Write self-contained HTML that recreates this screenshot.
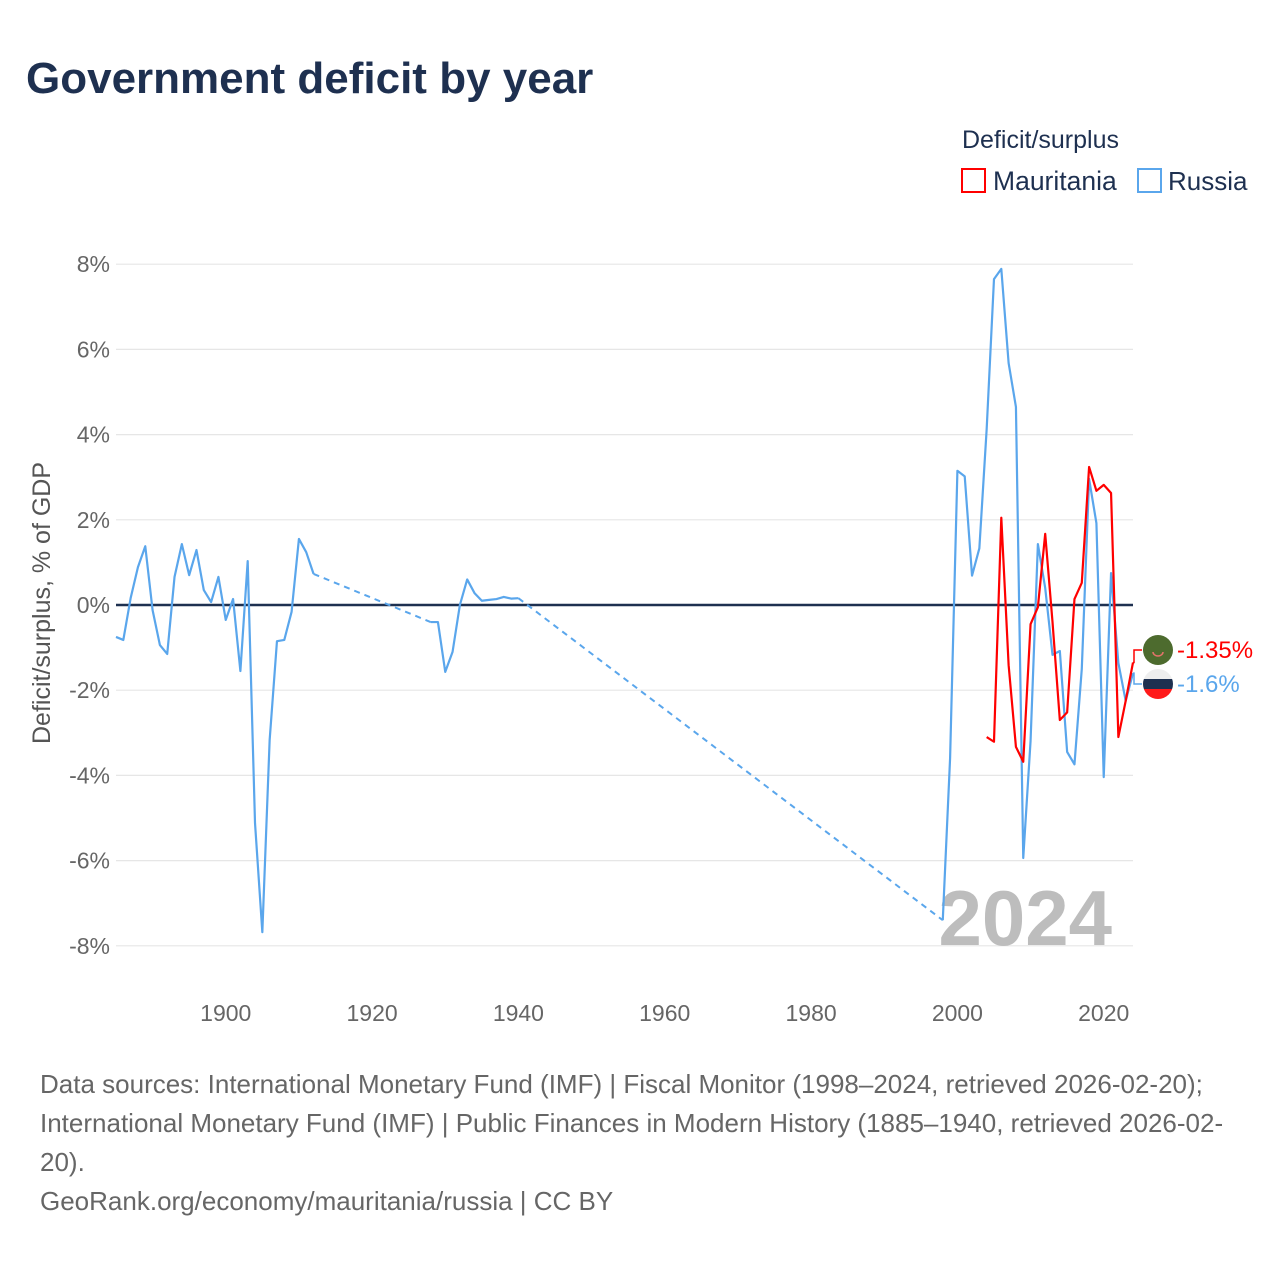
<!DOCTYPE html>
<html><head><meta charset="utf-8"><style>
body{margin:0;background:#fff;font-family:"Liberation Sans",sans-serif;}
</style></head><body>
<svg id="chart" width="1280" height="1280" viewBox="0 0 1280 1280" xmlns="http://www.w3.org/2000/svg" font-family="Liberation Sans, sans-serif">
<rect width="1280" height="1280" fill="#fff"/>
<text x="26" y="93" font-size="44" font-weight="bold" fill="#1e3050">Government deficit by year</text>
<g>
<text x="962" y="148" font-size="25" fill="#1e3050">Deficit/surplus</text>
<rect x="962" y="169" width="23" height="23" fill="none" stroke="#ff0000" stroke-width="2"/>
<text x="993" y="190" font-size="26.5" fill="#1e3050">Mauritania</text>
<rect x="1138" y="169" width="23" height="23" fill="none" stroke="#5aa6ec" stroke-width="2"/>
<text x="1168" y="190" font-size="26" fill="#1e3050">Russia</text>
</g>
<text transform="translate(50,603) rotate(-90)" text-anchor="middle" font-size="25" fill="#555">Deficit/surplus, % of GDP</text>
<g id="grid"></g>
<text x="1112" y="945" text-anchor="end" font-size="78" font-weight="bold" fill="#bdbdbd">2024</text>
<g id="series"></g>
<g font-size="26" fill="#666">
<text x="40" y="1093">Data sources: International Monetary Fund (IMF) | Fiscal Monitor (1998–2024, retrieved 2026-02-20);</text>
<text x="40" y="1132">International Monetary Fund (IMF) | Public Finances in Modern History (1885–1940, retrieved 2026-02-</text>
<text x="40" y="1171">20).</text>
<text x="40" y="1210">GeoRank.org/economy/mauritania/russia | CC BY</text>
</g>
</svg>
<script>
const yTicks=[8,6,4,2,0,-2,-4,-6,-8];
const xTicks=[1900,1920,1940,1960,1980,2000,2020];
const russiaYears=[1885,1886,1887,1888,1889,1890,1891,1892,1893,1894,1895,1896,1897,1898,1899,1900,1901,1902,1903,1904,1905,1906,1907,1908,1909,1910,1911,1912,
1928,1929,1930,1931,1932,1933,1934,1935,1936,1937,1938,1939,1940,
1998,1999,2000,2001,2002,2003,2004,2005,2006,2007,2008,2009,2010,2011,2012,2013,2014,2015,2016,2017,2018,2019,2020,2021,2022,2023,2024];
const russiaValues=[-0.75,-0.82,0.16,0.89,1.38,-0.12,-0.94,-1.15,0.66,1.43,0.70,1.29,0.35,0.07,0.66,-0.35,0.14,-1.55,1.03,-5.12,-7.68,-3.17,-0.85,-0.82,-0.16,1.55,1.24,0.73,
-0.4,-0.4,-1.57,-1.1,0.0,0.6,0.28,0.1,0.12,0.14,0.19,0.15,0.16,
-7.4,-3.6,3.15,3.02,0.69,1.33,4.13,7.65,7.89,5.68,4.65,-5.94,-3.19,1.43,0.4,-1.17,-1.08,-3.45,-3.74,-1.5,2.96,1.92,-4.04,0.75,-1.36,-2.25,-1.6];
const mauritaniaYears=[2004,2005,2006,2007,2008,2009,2010,2011,2012,2013,2014,2015,2016,2017,2018,2019,2020,2021,2022,2023,2024];
const mauritaniaValues=[-3.1,-3.21,2.05,-1.41,-3.33,-3.68,-0.45,-0.05,1.67,-0.4,-2.7,-2.52,0.14,0.52,3.24,2.68,2.82,2.63,-3.1,-2.25,-1.35];
const endLabels=["-1.35%","-1.6%"];

const NS="http://www.w3.org/2000/svg";
const X0=116,X1=1133,Y0=1885,Y1=2024;
const xs=y=>X0+(y-Y0)*(X1-X0)/(Y1-Y0);
const ys=v=>605-v*42.6;
function mk(tag,attrs,parent){const e=document.createElementNS(NS,tag);for(const k in attrs)e.setAttribute(k,attrs[k]);parent.appendChild(e);return e;}
const grid=document.getElementById('grid');
yTicks.forEach(t=>{
  const l=mk('line',{x1:X0,x2:X1,y1:ys(t),y2:ys(t),stroke:t===0?'#1e3050':'#e6e6e6','stroke-width':t===0?2.5:1.2},grid);
  
  
  const tx=mk('text',{x:110,y:ys(t)+8,'text-anchor':'end','font-size':23,fill:'#666'},grid);
  tx.textContent=t+'%';
  
  
});
xTicks.forEach(t=>{
  const tx=mk('text',{x:xs(t),y:1021,'text-anchor':'middle','font-size':23,fill:'#666'},grid);
  tx.textContent=t;
  
  
});
const sg=document.getElementById('series');
function draw(years,vals,color,name){
  const g=mk('g',{},sg);
  
  
  let d='';
  for(let i=0;i<years.length;i++){
    if(i>0&&years[i]-years[i-1]>1){
      const p=mk('path',{d:'M'+xs(years[i-1])+','+ys(vals[i-1])+'L'+xs(years[i])+','+ys(vals[i]),fill:'none',stroke:color,'stroke-width':2,'stroke-dasharray':'6,5'},g);
      
      
      d+='M';
    } else d+=(i===0?'M':'L');
    d+=xs(years[i])+','+ys(vals[i]);
  }
  const p=mk('path',{d:d,fill:'none',stroke:color,'stroke-width':2.2,'stroke-linejoin':'round'},g);
  
  
}
draw(russiaYears,russiaValues,'#5aa6ec','russia');
draw(mauritaniaYears,mauritaniaValues,'#ff0000','mauritania');
const ends=[{v:mauritaniaValues[mauritaniaValues.length-1],c:'#ff0000',cy:650,n:'mauritania'},{v:russiaValues[russiaValues.length-1],c:'#5aa6ec',cy:684,n:'russia'}];
ends.forEach((e,i)=>{
  const g=mk('g',{},sg);
  
  
  mk('path',{d:'M'+X1+','+ys(e.v)+'H1134V'+e.cy+'H1142',fill:'none',stroke:e.c,'stroke-width':1.5},g);
  if(i===0){
    mk('circle',{cx:1158,cy:e.cy,r:15,fill:'#4d6b2e'},g);
    mk('path',{d:'M1153,652 a5,4 0 0 0 10,0',fill:'none',stroke:'#e5736a','stroke-width':1.5},g);
  } else {
    mk('clipPath',{id:'rc'},g).appendChild(document.createElementNS(NS,'circle'));
    const c=g.querySelector('#rc circle');c.setAttribute('cx',1158);c.setAttribute('cy',e.cy);c.setAttribute('r',15);
    const gg=mk('g',{'clip-path':'url(#rc)'},g);
    mk('rect',{x:1143,y:e.cy-15,width:30,height:10,fill:'#eeeeee'},gg);
    mk('rect',{x:1143,y:e.cy-5,width:30,height:10,fill:'#1e3050'},gg);
    mk('rect',{x:1143,y:e.cy+5,width:30,height:10,fill:'#ff1a1a'},gg);
  }
  const t=mk('text',{x:1177,y:e.cy+8,'font-size':24,fill:e.c},g);
  t.textContent=endLabels[i];
});
</script>
</body></html>
